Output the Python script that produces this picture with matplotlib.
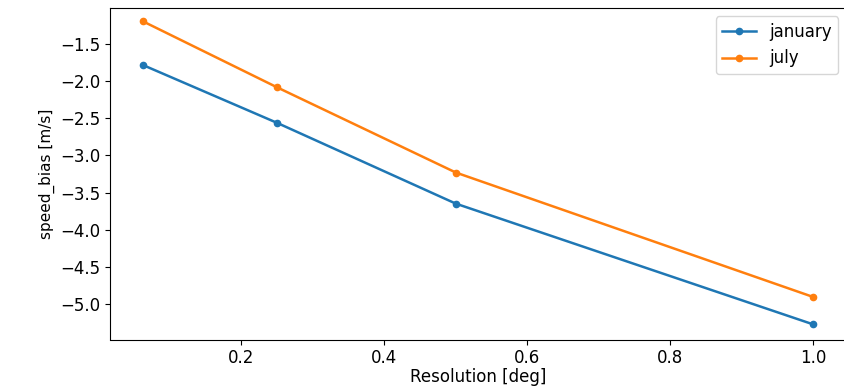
import matplotlib
matplotlib.use('Agg')
import matplotlib.pyplot as plt

# Resolução em graus e bias de velocidade por mês
resolucao = [0.0625, 0.25, 0.5, 1.0]
bias_janeiro = [-1.78, -2.56, -3.65, -5.28]
bias_julho = [-1.19, -2.08, -3.23, -4.91]

fig = plt.figure(figsize=(8.44, 3.88), dpi=100)
ax = fig.add_axes([0.130, 0.125, 0.873, 0.854])

ax.plot(resolucao, bias_janeiro, marker='o', markersize=4.5, linewidth=1.8, label='january')
ax.plot(resolucao, bias_julho, marker='o', markersize=4.5, linewidth=1.8, label='july')

ax.set_ylim(-5.485, -1.01)
ax.set_xlabel('Resolution [deg]', fontsize=12, labelpad=1)
ax.set_ylabel('speed_bias [m/s]', fontsize=11)
ax.tick_params(labelsize=12, pad=3)
ax.set_xticks([0.2, 0.4, 0.6, 0.8, 1.0])
ax.legend(loc='upper right', fontsize=12)

fig.savefig('out.png', dpi=100)
